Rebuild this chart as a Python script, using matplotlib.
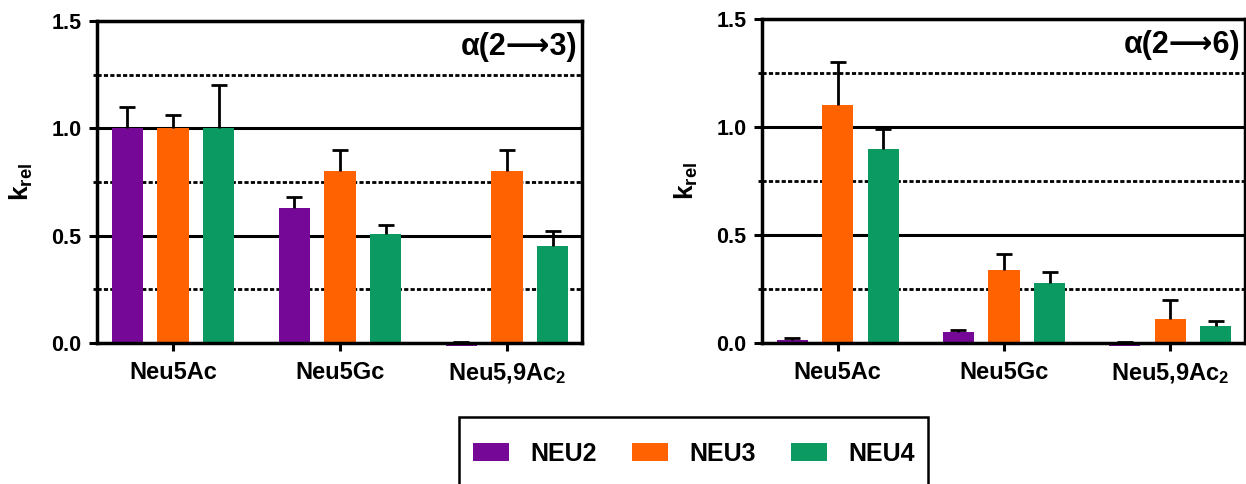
import numpy as np
import matplotlib
matplotlib.use('Agg')
import matplotlib.pyplot as plt
from matplotlib.ticker import MultipleLocator
from matplotlib.patches import Rectangle

plt.rcParams['font.family'] = ['Liberation Sans', 'DejaVu Sans']
plt.rcParams['font.weight'] = 'bold'
plt.rcParams['mathtext.fontset'] = 'custom'
plt.rcParams['mathtext.rm'] = 'Liberation Sans:bold'
plt.rcParams['mathtext.default'] = 'rm'

# data
substrates = ['Neu5Ac', 'Neu5Gc', 'Neu5,9Ac$_2$']
enzymes = ['NEU2', 'NEU3', 'NEU4']
colors = ['#760898', '#FF6200', '#0B9A62']

# alpha(2->3)
k23_neu2 = [1.0, 0.63, -0.015]
k23_neu3 = [1.0, 0.80, 0.80]
k23_neu4 = [1.0, 0.51, 0.45]
e23_neu2 = [0.10, 0.05, 0.02]
e23_neu3 = [0.06, 0.10, 0.10]
e23_neu4 = [0.20, 0.04, 0.07]

# alpha(2->6)
k26_neu2 = [0.016, 0.053, -0.015]
k26_neu3 = [1.10, 0.34, 0.11]
k26_neu4 = [0.90, 0.28, 0.08]
e26_neu2 = [0.006, 0.005, 0.02]
e26_neu3 = [0.20, 0.07, 0.09]
e26_neu4 = [0.09, 0.05, 0.02]

panels = [
    ('α(2⟶3)', [k23_neu2, k23_neu3, k23_neu4], [e23_neu2, e23_neu3, e23_neu4]),
    ('α(2⟶6)', [k26_neu2, k26_neu3, k26_neu4], [e26_neu2, e26_neu3, e26_neu4]),
]

W, H = 1246, 484
fig = plt.figure(figsize=(W / 100, H / 100), dpi=100)
ax_boxes = [(97, 582, 21, 343), (762, 1245, 19, 343)]

offsets = [-0.274, 0.0, 0.274]
width = 0.187
x = np.arange(len(substrates))
handles = []

for (title, vals, errs), (x0, x1, y0, y1) in zip(panels, ax_boxes):
    ax = fig.add_axes([x0 / W, 1 - y1 / H, (x1 - x0) / W, (y1 - y0) / H])
    ax.set_axisbelow(True)
    handles = []
    for i in range(3):
        b = ax.bar(x + offsets[i], vals[i], width, color=colors[i], zorder=2,
                   label=enzymes[i], clip_on=False)
        handles.append(b)
        _, caps, _ = ax.errorbar(x + offsets[i], vals[i], yerr=[np.zeros(3), errs[i]],
                                 fmt='none', ecolor='black', elinewidth=2.0,
                                 capsize=5.8, capthick=2.0, zorder=3)
        caps[0].set_visible(False)  # only upper caps
    ax.set_ylim(0, 1.5)
    ax.set_xlim(-0.456, 2.45)
    ax.yaxis.set_minor_locator(MultipleLocator(0.25))
    ax.set_yticks([0, 0.5, 1.0, 1.5])
    ax.set_yticklabels(['0.0', '0.5', '1.0', '1.5'])
    ax.set_xticks(x)
    ax.set_xticklabels(substrates, fontsize=17, fontweight='bold')
    ax.grid(True, which='major', axis='y', color='black', lw=2.2)
    ax.grid(True, which='minor', axis='y', color='black', lw=2.0,
            linestyle=(0, (1.5, 0.8)))
    ax.tick_params(axis='y', which='major', labelsize=15.5, length=6, width=2.2, pad=5)
    ax.tick_params(axis='y', which='minor', length=3, width=2.0)
    ax.tick_params(axis='x', length=6, width=2.2, pad=7)
    for s in ax.spines.values():
        s.set_linewidth(2.5)
    ax.set_ylabel('k$_{rel}$', fontsize=19, fontweight='bold', labelpad=12)
    ax.text(0.99, 0.965, title, transform=ax.transAxes, ha='right', va='top',
            fontsize=22, fontweight='bold')

# legend
fig.legend(handles, enzymes, loc='center', ncol=3,
           bbox_to_anchor=(693.5 / W, 1 - 454 / H), frameon=False,
           prop={'size': 18, 'weight': 'bold'}, handlelength=1.45,
           handleheight=0.75, handletextpad=0.85, columnspacing=1.4)
fig.patches.append(Rectangle((459 / W, 1 - 510 / H), (928 - 459) / W, (510 - 417) / H,
                             transform=fig.transFigure, fill=False, lw=1.8,
                             edgecolor='black'))

fig.savefig('out.png', dpi=100)
